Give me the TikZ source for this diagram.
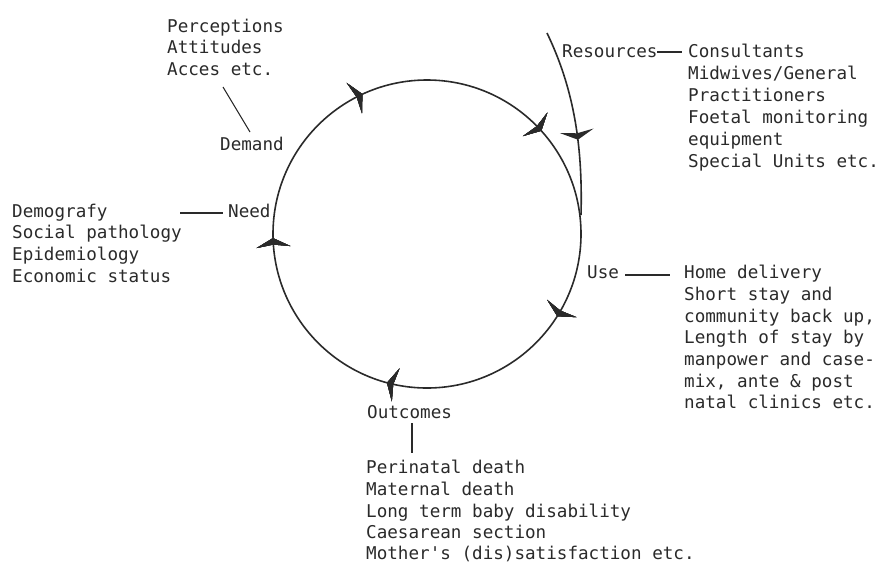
\documentclass[tikz,border=0pt]{standalone}
\usepackage{fontspec}
\setmonofont{DejaVu Sans Mono}
\usetikzlibrary{decorations.markings}
\definecolor{ink}{HTML}{2A2A2A}
\tikzset{
  txt/.style={anchor=base west, inner sep=0pt, font=\ttfamily\fontsize{17.6}{21.7}\selectfont, text=ink},
  ln/.style={draw=ink, line width=1.6pt},
  lead/.style={draw=ink, line width=1.1pt},
  headmark/.style={postaction=decorate, decoration={markings,
    mark=at position #1 with {\fill[ink] (5pt,0pt) -- (-4pt,17pt) -- (-1.5pt,0pt) -- (-4pt,-17pt) -- cycle;}}},
}
\begin{document}
\begin{tikzpicture}[x=1pt, y=-1pt]
\useasboundingbox (0,0) rectangle (881,566);
% cycle
\draw[ln, headmark=0.0845, headmark=0.2867, headmark=0.4906, headmark=0.676, headmark=0.878]
  (427,234) circle[radius=154];
% resources input
\coordinate (rs) at (547,33);
\coordinate (rj) at (581,215);
\draw[ln, headmark=0.57] (rs) .. controls (572,85) and (583,140) .. (rj);
% Demand
\node[txt] (perc1) at (167,32) {Perceptions};
\node[txt] (perc2) at (167,53.5) {Attitudes};
\node[txt] (perc3) at (167,75) {Acces etc.};
\node[txt] (demand) at (220,150) {Demand};
\coordinate (dA) at (223,87);
\coordinate (dB) at (250,132);
\draw[lead] (dA) -- (dB);
% Need
\node[txt] (need) at (228,217) {Need};
\node[txt] (dem1) at (12,217) {Demografy};
\node[txt] (dem2) at (12,238.7) {Social pathology};
\node[txt] (dem3) at (12,260.4) {Epidemiology};
\node[txt] (dem4) at (12,282) {Economic status};
\coordinate (nA) at (180,213);
\coordinate (nB) at (223,213);
\draw[lead] (nA) -- (nB);
% Resources
\node[txt] (res) at (562,57) {Resources};
\node[txt] (r1) at (688,57) {Consultants};
\node[txt] (r2) at (688,79) {Midwives/General};
\node[txt] (r3) at (688,101) {Practitioners};
\node[txt] (r4) at (688,123) {Foetal monitoring};
\node[txt] (r5) at (688,145) {equipment};
\node[txt] (r6) at (688,167) {Special Units etc.};
\coordinate (rA) at (657,52);
\coordinate (rB) at (682,52);
\draw[lead] (rA) -- (rB);
% Use
\node[txt] (use) at (587,278) {Use};
\node[txt] (u1) at (684,278) {Home delivery};
\node[txt] (u2) at (684,300) {Short stay and};
\node[txt] (u3) at (684,322) {community back up,};
\node[txt] (u4) at (684,343) {Length of stay by};
\node[txt] (u5) at (684,365) {manpower and case-};
\node[txt] (u6) at (684,387) {mix, ante \& post};
\node[txt] (u7) at (684,408) {natal clinics etc.};
\coordinate (uA) at (625,275);
\coordinate (uB) at (670,275);
\draw[lead] (uA) -- (uB);
% Outcomes
\node[txt] (out) at (367,418) {Outcomes};
\node[txt] (o1) at (366,473) {Perinatal death};
\node[txt] (o2) at (366,495) {Maternal death};
\node[txt] (o3) at (366,517) {Long term baby disability};
\node[txt] (o4) at (366,538) {Caesarean section};
\node[txt] (o5) at (366,559) {Mother's (dis)satisfaction etc.};
\coordinate (oA) at (412,423);
\coordinate (oB) at (412,453);
\draw[lead] (oA) -- (oB);
\end{tikzpicture}
\end{document}
